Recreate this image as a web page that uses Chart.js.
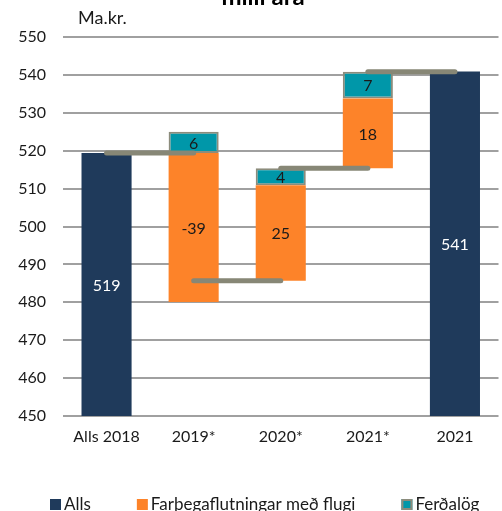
<!DOCTYPE html>
<html>
<head>
<meta charset="utf-8">
<script src="https://cdn.jsdelivr.net/npm/chart.js@4"></script>
<style>
  html, body { margin: 0; padding: 0; background: #fff; overflow: hidden; }
  #wrap { position: relative; width: 502px; height: 511px; }
</style>
</head>
<body>
<div id="wrap"><canvas id="c"></canvas></div>
<script>
// ---- data ----
const categories = ['Alls 2018', '2019*', '2020*', '2021*', '2021'];
const allsValues = [519.4, null, null, null, 540.9];
const flugValues = [null, -39.3, 25.2, 18.4, null];
const ferdValues = [null, 5.6, 4.45, 7.1, null];
const seriesNames = ['Alls', 'Farþegaflutningar með flugi', 'Ferðalög'];
const yMin = 450, yMax = 550, yStep = 10;
const unitLabel = 'Ma.kr.';
const titleText = 'milli ára';

// ---- build floating ranges (waterfall) ----
const allsRanges = allsValues.map(v => v == null ? null : [yMin, v]);
const flugRanges = [], ferdRanges = [], levels = [];
let level = null;
categories.forEach((c, i) => {
  if (allsValues[i] != null) {
    level = allsValues[i];
    flugRanges.push(null); ferdRanges.push(null);
  } else {
    let pos = level, neg = level;
    const parts = [flugValues[i], ferdValues[i]].map(v => {
      if (v == null) return null;
      if (v >= 0) { const r = [pos, pos + v]; pos += v; return r; }
      const r = [neg + v, neg]; neg += v; return r;
    });
    flugRanges.push(parts[0]); ferdRanges.push(parts[1]);
    level = level + (flugValues[i] || 0) + (ferdValues[i] || 0);
  }
  levels.push(level);
});
const connectorSets = [];
for (let i = 0; i < categories.length - 1; i++) {
  const d = categories.map(() => null);
  d[i] = levels[i]; d[i + 1] = levels[i];
  connectorSets.push({
    type: 'line', label: '_conn' + i, data: d,
    borderColor: '#878776', borderWidth: 5, borderCapStyle: 'round',
    pointRadius: 0, pointHoverRadius: 0, fill: false, spanGaps: false, order: 0
  });
}

const FONT = 'Lato, "Open Sans", sans-serif';
const fills = ['#1f3a5b', '#fd8329', '#0097a9'];
const tealBorder = '#8c8c7c';

const labelPlugin = {
  id: 'barLabels',
  afterDatasetsDraw(chart) {
    const ctx = chart.ctx;
    const raw = [allsValues, flugValues, ferdValues];
    const colors = ['#ffffff', '#1a1a1a', '#1a1a1a'];
    ctx.save();
    ctx.font = '16px ' + FONT;
    ctx.textAlign = 'center';
    ctx.textBaseline = 'middle';
    for (let d = 0; d < 3; d++) {
      const meta = chart.getDatasetMeta(d);
      meta.data.forEach((el, i) => {
        const v = raw[d][i];
        if (v == null) return;
        const p = el.getCenterPoint();
        ctx.fillStyle = colors[d];
        ctx.fillText(String(Math.round(v)), p.x, p.y + 1);
      });
    }
    ctx.restore();
  }
};

const textPlugin = {
  id: 'extraText',
  afterDraw(chart) {
    const ctx = chart.ctx;
    ctx.save();
    ctx.fillStyle = '#000';
    ctx.font = 'bold 24px ' + FONT;
    ctx.textAlign = 'center';
    ctx.textBaseline = 'alphabetic';
    ctx.fillText(titleText, 263, 5);
    ctx.font = '18px ' + FONT;
    ctx.textAlign = 'left';
    ctx.fillStyle = '#1a1a1a';
    ctx.fillText(unitLabel, 78, 24);

    // legend
    ctx.font = '17px ' + FONT;
    ctx.textBaseline = 'alphabetic';
    let x = 50;
    const boxTop = 499, box = 11;
    seriesNames.forEach((name, i) => {
      ctx.fillStyle = fills[i];
      ctx.fillRect(x, boxTop, box, box);
      if (i === 2) {
        ctx.strokeStyle = tealBorder; ctx.lineWidth = 2;
        ctx.strokeRect(x + 1, boxTop + 1, box - 2, box - 2);
      }
      ctx.fillStyle = '#1a1a1a';
      ctx.fillText(name, x + box + 3, 510);
      x += box + 3 + ctx.measureText(name).width + 46;
    });
    ctx.restore();
  }
};

new Chart(document.getElementById('c'), {
  type: 'bar',
  data: {
    labels: categories,
    datasets: [
      { label: seriesNames[0], data: allsRanges, backgroundColor: fills[0], borderWidth: 0, order: 1 },
      { label: seriesNames[1], data: flugRanges, backgroundColor: fills[1], borderWidth: 0, order: 1 },
      { label: seriesNames[2], data: ferdRanges, backgroundColor: fills[2], borderColor: tealBorder, borderWidth: 2, borderSkipped: false, order: 1 },
      ...connectorSets
    ]
  },
  options: {
    responsive: true,
    maintainAspectRatio: false,
    animation: false,
    events: [],
    layout: { padding: { left: 0, right: 3.5, top: 37, bottom: 55.5 } },
    datasets: { bar: { categoryPercentage: 1, barPercentage: 0.575 } },
    scales: {
      x: {
        stacked: true,
        grid: { display: false, drawTicks: false },
        border: { display: false },
        ticks: { color: '#1a1a1a', font: { family: FONT, size: 16 }, padding: 11, maxRotation: 0 },
        afterFit(s) { s.height = 39.5; }
      },
      y: {
        stacked: false,
        min: yMin, max: yMax,
        grid: { color: '#a0a0a0', lineWidth: 2, drawTicks: false },
        border: { display: false },
        ticks: { stepSize: yStep, color: '#1a1a1a', font: { family: FONT, size: 16 }, padding: 17 },
        afterFit(s) { s.width = 63; }
      }
    },
    plugins: {
      legend: { display: false },
      tooltip: { enabled: false },
      title: { display: false }
    }
  },
  plugins: [labelPlugin, textPlugin]
});
</script>
</body>
</html>
